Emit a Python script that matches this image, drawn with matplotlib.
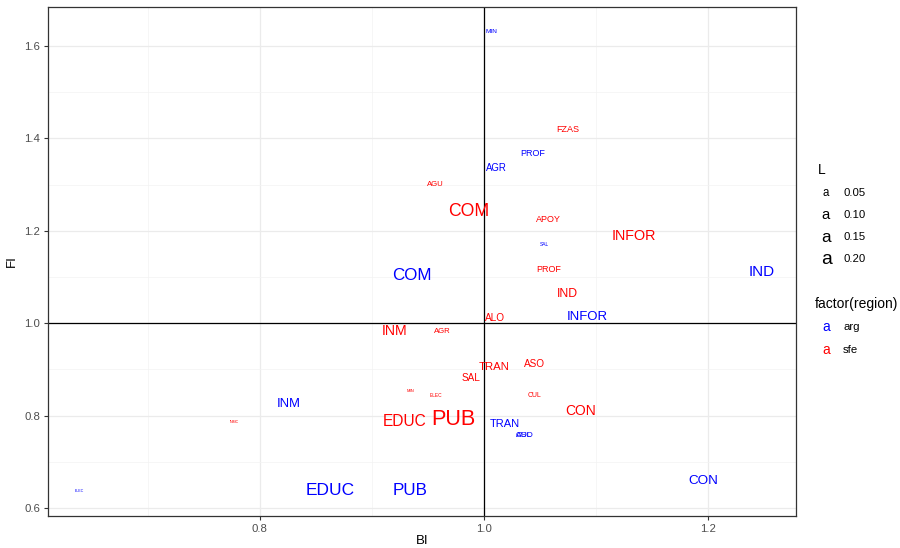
import matplotlib
matplotlib.use("Agg")
import matplotlib.pyplot as plt
import numpy as np

plt.rcParams['font.family'] = ['Liberation Sans', 'DejaVu Sans']

# sector labels, BI, FI and L for each region
arg_sector = ["MIN", "PROF", "AGR", "COM", "IND", "INFOR", "INM", "TRAN",
              "ASO", "CUL", "EDUC", "PUB", "CON", "ELEC", "SAL"]
arg_bi = [1.007, 1.044, 1.011, 0.936, 1.248, 1.092, 0.826, 1.019,
          1.037, 1.036, 0.8625, 0.934, 1.1955, 0.639, 1.054]
arg_fi = [1.631, 1.368, 1.335, 1.104, 1.110, 1.013, 0.825, 0.782,
          0.758, 0.757, 0.639, 0.639, 0.658, 0.637, 1.171]
arg_l = [0.0079, 0.027, 0.034, 0.167, 0.122, 0.0845, 0.082, 0.0517,
         0.0217, 0.0200, 0.174, 0.167, 0.0896, 0.0002, 0.0016]

sfe_sector = ["FZAS", "AGU", "COM", "APOY", "INFOR", "PROF", "IND", "ALO",
              "INM", "AGR", "TRAN", "ASO", "SAL", "CUL", "MIN", "ELEC",
              "EDUC", "PUB", "CON", "INMC"]
sfe_bi = [1.075, 0.957, 0.987, 1.058, 1.134, 1.058, 1.075, 1.010,
          0.9205, 0.963, 1.009, 1.045, 0.989, 1.0455, 0.935, 0.957,
          0.929, 0.973, 1.0866, 0.777]
sfe_fi = [1.419, 1.300, 1.242, 1.225, 1.188, 1.117, 1.063, 1.011,
          0.983, 0.983, 0.905, 0.911, 0.881, 0.844, 0.853, 0.844,
          0.788, 0.792, 0.810, 0.786]
sfe_l = [0.027, 0.016, 0.181, 0.027, 0.108, 0.027, 0.068, 0.0376,
         0.103, 0.016, 0.0557, 0.0376, 0.0376, 0.0102, 0.0005, 0.0018,
         0.131, 0.300, 0.097, 0.0002]

legend_l = [0.05, 0.10, 0.15, 0.20]
regions = ["arg", "sfe"]
region_colors = {"arg": "#0000FF", "sfe": "#FF0000"}

all_l = np.array(arg_l + sfe_l)
l_min, l_max = all_l.min(), all_l.max()


def text_size(l):
    # ggplot-like area scale, range 1..6 mm
    r = np.clip((l - l_min) / (l_max - l_min), 0, 1)
    return 2.6 * (1 + 5 * np.sqrt(r))


fig = plt.figure(figsize=(9, 5.48), dpi=100)
ax = fig.add_axes([0.0533, 0.0584, 0.8311, 0.9288])

ax.set_xlim(0.611, 1.2786)
ax.set_ylim(0.583, 1.684)
ax.set_xticks([0.8, 1.0, 1.2])
ax.set_xticks([0.7, 0.9, 1.1], minor=True)
ax.set_yticks([0.6, 0.8, 1.0, 1.2, 1.4, 1.6])
ax.set_yticks([0.7, 0.9, 1.1, 1.3, 1.5], minor=True)
ax.set_xticklabels(["0.8", "1.0", "1.2"])
ax.set_yticklabels(["0.6", "0.8", "1.0", "1.2", "1.4", "1.6"])
ax.grid(which="major", color="#EBEBEB", linewidth=0.9)
ax.grid(which="minor", color="#F3F3F3", linewidth=0.5)
ax.set_axisbelow(True)
ax.tick_params(which="major", length=3, width=0.8, color="#333333",
               labelsize=8.2, labelcolor="#4D4D4D", pad=2.5)
ax.tick_params(which="minor", length=0)
for sp in ax.spines.values():
    sp.set_color("#333333")
    sp.set_linewidth(0.9)

ax.axhline(1.0, color="black", linewidth=0.9, zorder=1)
ax.axvline(1.0, color="black", linewidth=0.9, zorder=1)

for sec, bx, fy, l in zip(arg_sector, arg_bi, arg_fi, arg_l):
    ax.text(bx, fy, sec, color=region_colors["arg"], fontsize=text_size(l),
            ha="center", va="center", zorder=3)
for sec, bx, fy, l in zip(sfe_sector, sfe_bi, sfe_fi, sfe_l):
    ax.text(bx, fy, sec, color=region_colors["sfe"], fontsize=text_size(l),
            ha="center", va="center", zorder=3)

ax.set_xlabel("BI", fontsize=9.5, labelpad=1)
ax.set_ylabel("FI", fontsize=9.5, labelpad=5)

# legends drawn by hand
W, H = 900, 548
fig.text(818 / W, 1 - 170 / H, "L", fontsize=10, ha="left", va="center")
for i, l in enumerate(legend_l):
    y = 1 - (193 + 22 * i) / H
    fig.text(826 / W, y, "a", fontsize=text_size(l) * 1.05,
             ha="center", va="center")
    fig.text(843 / W, y, f"{l:.2f}", fontsize=8.2, ha="left", va="center")

fig.text(815 / W, 1 - 304 / H, "factor(region)", fontsize=10,
         ha="left", va="center")
for i, reg in enumerate(regions):
    y = 1 - (327 + 23 * i) / H
    fig.text(826 / W, y, "a", fontsize=10, color=region_colors[reg],
             ha="center", va="center")
    fig.text(843 / W, y, reg, fontsize=8.2, ha="left", va="center")

fig.savefig("out.png", dpi=100)
